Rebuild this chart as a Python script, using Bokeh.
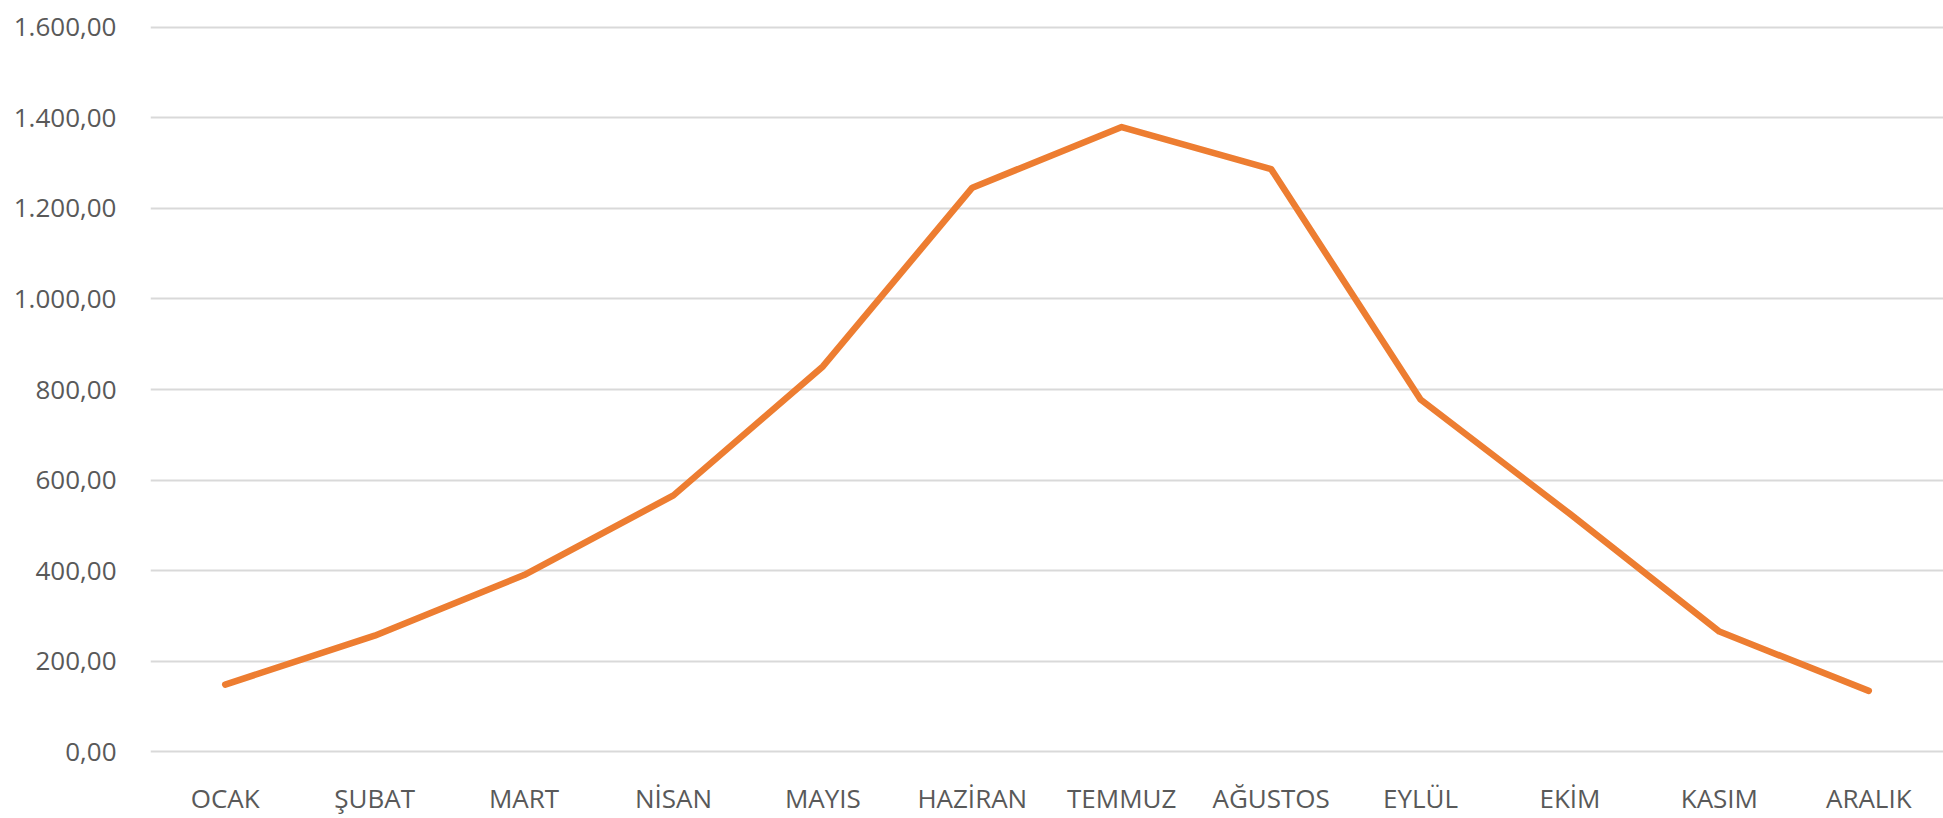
from bokeh.plotting import figure
from bokeh.models import FactorRange, Range1d, FixedTicker, ColumnDataSource
from bokeh.embed import file_html
from bokeh.resources import INLINE

# Monthly values
months = ["OCAK", "ŞUBAT", "MART", "NİSAN", "MAYIS", "HAZİRAN",
          "TEMMUZ", "AĞUSTOS", "EYLÜL", "EKİM", "KASIM", "ARALIK"]
values = [148, 256, 390, 566, 851, 1246, 1380, 1287, 778, 525, 265, 134]

# Y axis ticks and their Turkish-formatted labels
y_ticks = [0, 200, 400, 600, 800, 1000, 1200, 1400, 1600]
y_tick_labels = ["0,00", "200,00", "400,00", "600,00", "800,00",
                 "1.000,00", "1.200,00", "1.400,00", "1.600,00"]

source = ColumnDataSource(data=dict(month=months, value=values))

# a little headroom so the 0 and 1600 grid lines are not clipped at the frame edge
p = figure(
    width=1943, height=818,
    x_range=FactorRange(*months, range_padding=0),
    y_range=Range1d(-4.4, 1604.4),
    output_backend="svg", toolbar_location=None,
    min_border_left=150, min_border_right=0,
    min_border_top=25, min_border_bottom=56,
)
p.background_fill_color = "white"
p.border_fill_color = "white"
p.outline_line_color = None

p.line(x="month", y="value", source=source,
       line_color="#ED7D31", line_width=6.5, line_join="round", line_cap="round")

# Axes
p.yaxis.ticker = FixedTicker(ticks=y_ticks)
p.yaxis.major_label_overrides = {t: lbl for t, lbl in zip(y_ticks, y_tick_labels)}
for ax in (p.xaxis[0], p.yaxis[0]):
    ax.axis_line_color = None
    ax.major_tick_line_color = None
    ax.minor_tick_line_color = None
    ax.major_label_text_font = "Open Sans"
    ax.major_label_text_font_size = "26px"
    ax.major_label_text_color = "#595959"
p.yaxis.major_label_standoff = 28
p.xaxis.major_label_standoff = 20

# Grid
p.xgrid.grid_line_color = None
p.ygrid.grid_line_color = "#D9D9D9"
p.ygrid.grid_line_width = 2

open("out.html", "w").write(file_html(p, INLINE))
